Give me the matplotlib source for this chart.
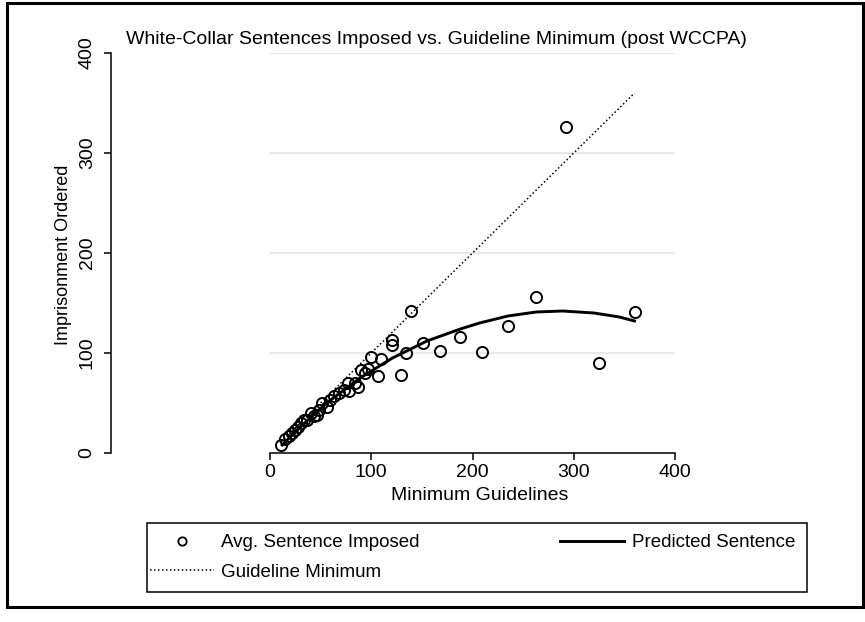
import matplotlib
matplotlib.use("Agg")
import matplotlib.pyplot as plt
from matplotlib.lines import Line2D
from matplotlib.patches import Rectangle

# Average sentence imposed per guideline minimum (months)
min_guidelines = [11, 15, 19, 22, 25, 28, 31, 34, 37, 40, 43, 46, 48, 51, 56, 59,
                  63, 68, 73, 77, 78, 84, 87, 90, 94, 97, 100, 107, 110, 120,
                  120, 129, 134, 139, 151, 168, 188, 209, 235, 263, 292, 325, 360]
avg_sentence = [8, 14, 17, 20, 23, 26, 30, 33, 33, 40, 37, 38, 43, 50, 46, 53,
                57, 60, 63, 70, 62, 70, 66, 83, 80, 84, 96, 77, 94, 108,
                113, 78, 100, 142, 110, 102, 116, 101, 127, 156, 326, 90, 141]

# predicted (quadratic fit) sentence
pred_x = [12, 30, 56, 89, 121, 155, 188, 207, 235, 263, 289, 320, 345, 360]
pred_y = [8, 26, 50, 75, 95, 112, 124, 130, 137, 141, 142, 140, 136, 132]

# guideline minimum line (sentence == guideline)
guide_x = [11, 360]
guide_y = [11, 360]

x_ticks = [0, 100, 200, 300, 400]
y_ticks = [0, 100, 200, 300, 400]

plt.rcParams['font.family'] = ['Liberation Sans', 'DejaVu Sans']

fig = plt.figure(figsize=(8.65, 6.22), dpi=100)
ax = fig.add_axes([270 / 865, 169 / 622, 405 / 865, 400 / 622])

# spine position first: moving it resets the ticks
for s in ['top', 'right']:
    ax.spines[s].set_visible(False)
ax.spines['left'].set_position(('outward', 159 * 0.72))
ax.spines['left'].set_linewidth(1.1)
ax.spines['bottom'].set_linewidth(1.1)

ax.set_axisbelow(True)
ax.yaxis.grid(True, color='#dde9ea', linewidth=1.2)

ax.plot(min_guidelines, avg_sentence, linestyle='none', marker='o', ms=8,
        mfc='none', mec='black', mew=1.4, clip_on=False)
ax.plot(pred_x, pred_y, color='black', linewidth=2.1)
ax.plot(guide_x, guide_y, color='black', linewidth=1.1, linestyle=(0, (1, 1.6)))

ax.set_xlim(0, 400)
ax.set_ylim(0, 400)
ax.set_xticks(x_ticks)
ax.set_yticks(y_ticks)
ax.tick_params(direction='out', length=5, width=1.1, pad=3, labelsize=14)
ax.tick_params(axis='y', labelrotation=90, pad=6)
plt.setp(ax.get_yticklabels(), va='center')

fig.text(436 / 865, 582 / 622, 'White-Collar Sentences Imposed vs. Guideline Minimum (post WCCPA)',
         ha='center', va='center', fontsize=14)
fig.text(63 / 865, 367 / 622, 'Imprisonment Ordered', rotation=90,
         ha='center', va='center', fontsize=13)
fig.text(480 / 865, 126 / 622, 'Minimum Guidelines', ha='center', va='center', fontsize=14)

handles = [
    Line2D([], [], linestyle='none', marker='o', ms=6, mfc='none', mec='black', mew=1.3),
    Line2D([], [], color='black', linewidth=1.1, linestyle=(0, (1, 1.6))),
    Line2D([], [], color='black', linewidth=2.1),
]
labels = ['Avg. Sentence Imposed', 'Guideline Minimum', 'Predicted Sentence']
leg = fig.legend(handles, labels, loc='center', ncol=2, mode='expand',
                 bbox_to_anchor=(150 / 865, 30 / 622, 645 / 865, 69 / 622),
                 borderaxespad=0, borderpad=0, fontsize=13.5, frameon=False,
                 handlelength=3.4, handletextpad=0.4, columnspacing=1.0,
                 labelspacing=0.65)

# legend box and outer graph frame
fig.patches.append(Rectangle((147 / 865, 30 / 622), 660 / 865, 69 / 622, fill=False,
                             edgecolor='black', linewidth=1.1, transform=fig.transFigure))
fig.patches.append(Rectangle((7 / 865, 15 / 622), 856 / 865, 604 / 622, fill=False,
                             edgecolor='black', linewidth=2.2, transform=fig.transFigure))

fig.savefig('out.png', dpi=100)
